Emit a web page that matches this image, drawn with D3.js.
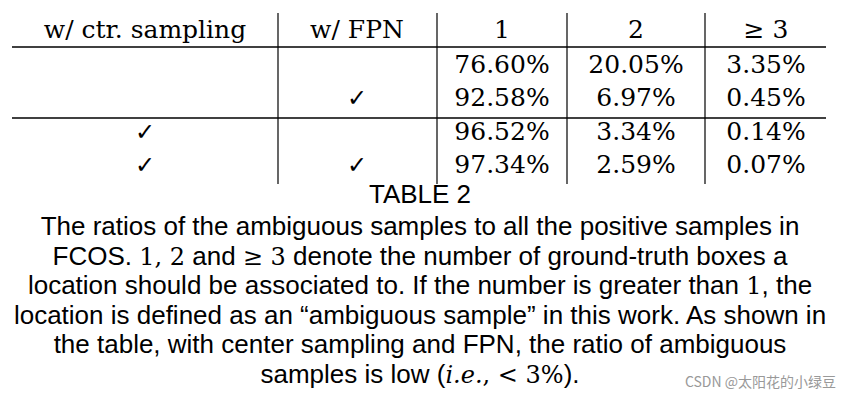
<!DOCTYPE html>
<html><head><meta charset="utf-8">
<script src="https://cdn.jsdelivr.net/npm/d3@7"></script>
<style>body{margin:0;background:#fff}</style>
</head><body>
<svg id="t" width="851" height="400"></svg>
<script>
// table content
var headers = ["w/ ctr. sampling", "w/ FPN", "1", "2", "\u2265 3"];
var ctrSampling = [false, false, true, true];
var fpn = [false, true, false, true];
var ratio1 = ["76.60%", "92.58%", "96.52%", "97.34%"];
var ratio2 = ["20.05%", "6.97%", "3.34%", "2.59%"];
var ratio3 = ["3.35%", "0.45%", "0.14%", "0.07%"];

// caption lines: [text, 0 sans / 1 serif / 2 serif italic]
var caption = [
  [["The ratios of the ambiguous samples to all the positive samples in", 0]],
  [["FCOS. ", 0], ["1, 2", 1], [" and ", 0], ["\u2265 3", 1], [" denote the number of ground-truth boxes a", 0]],
  [["location should be associated to. If the number is greater than ", 0], ["1", 1], [", the", 0]],
  [["location is defined as an \u201cambiguous sample\u201d in this work. As shown in", 0]],
  [["the table, with center sampling and FPN, the ratio of ambiguous", 0]],
  [["samples is low (", 0], ["i.e.", 2], [", ", 1], ["< 3%", 1], [").", 0]]
];

var svg = d3.select("#t");
var serif = "DejaVu Serif, serif";
var sans = "Liberation Sans, Arial, sans-serif";

var colX = d3.scaleOrdinal().domain(d3.range(5)).range([145, 357, 502, 636, 766]);
var bodyY = function(i) { return [73, 106, 140, 173][i]; };
var vlines = [278, 437, 567, 705];

svg.selectAll(".vl").data(vlines).enter().append("line")
  .attr("x1", d => d).attr("x2", d => d).attr("y1", 13).attr("y2", 184)
  .attr("stroke", "#000").attr("stroke-width", 1.2);
svg.selectAll(".hl").data([47, 118]).enter().append("line")
  .attr("x1", 12).attr("x2", 826).attr("y1", d => d).attr("y2", d => d)
  .attr("stroke", "#000").attr("stroke-width", 1.4);

svg.selectAll(".hd").data(headers).enter().append("text")
  .attr("x", (d, i) => colX(i)).attr("y", 38).attr("text-anchor", "middle")
  .attr("font-family", serif).attr("font-size", 25).text(d => d);

var rows = d3.range(4).map(i => [ctrSampling[i] ? "\u2713" : "", fpn[i] ? "\u2713" : "", ratio1[i], ratio2[i], ratio3[i]]);
rows.forEach(function(r, i) {
  svg.selectAll(".r" + i).data(r).enter().append("text")
    .attr("x", (d, j) => colX(j)).attr("y", bodyY(i)).attr("text-anchor", "middle")
    .attr("font-family", (d, j) => j < 2 ? "DejaVu Sans" : serif)
    .attr("font-size", (d, j) => j < 2 ? 24 : 25).text(d => d);
});

svg.append("text").attr("x", 420).attr("y", 203).attr("text-anchor", "middle")
  .attr("font-family", sans).attr("font-size", 26).text("TABLE 2");

caption.forEach(function(line, i) {
  var t = svg.append("text").attr("x", 420).attr("y", 235 + i * 29.6)
    .attr("text-anchor", "middle").attr("font-size", 26).attr("font-family", sans);
  line.forEach(function(s) {
    t.append("tspan").text(s[0])
      .attr("font-family", s[1] ? serif : sans)
      .attr("font-size", s[1] ? 24 : null)
      .attr("font-style", s[1] === 2 ? "italic" : null);
  });
});

svg.append("text").attr("x", 836).attr("y", 387).attr("text-anchor", "end")
  .attr("font-family", "Noto Sans CJK SC, sans-serif").attr("font-size", 14)
  .attr("fill", "#999").text("CSDN @太阳花的小绿豆");
</script>
</body></html>
